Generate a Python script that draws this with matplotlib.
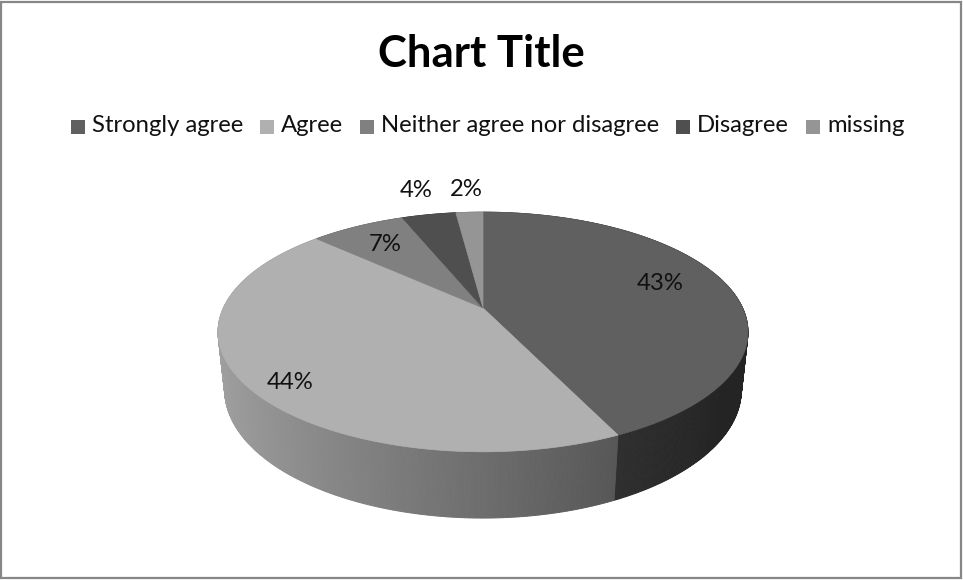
import numpy as np
import matplotlib
matplotlib.use("Agg")
import matplotlib.pyplot as plt
from matplotlib.patches import Polygon, Rectangle
from matplotlib.collections import PolyCollection
from matplotlib.colors import to_rgb

# ---- data ----
categories = ["Strongly agree", "Agree", "Neither agree nor disagree", "Disagree", "missing"]
shares = [43, 44, 7, 4, 2]
chart_title = "Chart Title"

# ---- styling ----
face_colors = ["#606060", "#b0b0b0", "#808080", "#4f4f4f", "#959595"]
label_radius = [0.70, 0.86, 0.75, 1.30, 1.30]
label_shift = [(5, -7), (8, 10), (0, 0), (0, -2), (0, 0)]   # pixel nudges
FONT = "Lato"
TEXT_FS = 17.2

W, H = 963, 580
fig = plt.figure(figsize=(W / 100, H / 100), dpi=100)
ax = fig.add_axes([0, 0, 1, 1])
ax.set_xlim(0, W)
ax.set_ylim(H, 0)
ax.axis("off")

# ---- perspective camera for the 3-D pie ----
CX, CY = 483, 308
TILT = np.radians(26.3)
CAM = 4.48
FOCAL = 1163
THICK = 0.25
S_T, C_T = np.sin(TILT), np.cos(TILT)


def project(X, Y, Z):
    up = Y * S_T + Z * C_T
    depth = CAM + Y * C_T - Z * S_T
    return CX + FOCAL * X / depth, CY - FOCAL * up / depth


fracs = np.asarray(shares, float) / np.sum(shares)
edges = np.concatenate([[0.0], np.cumsum(fracs)]) * 2 * np.pi

# side wall, drawn as thin shaded strips from back to front
strips, strip_cols, strip_depth = [], [], []
for i, col in enumerate(face_colors):
    base = np.array(to_rgb(col))
    n = max(4, int(np.degrees(edges[i + 1] - edges[i]) * 2))
    th = np.linspace(edges[i], edges[i + 1], n + 1)
    for a0, a1 in zip(th[:-1], th[1:]):
        p = [project(np.sin(a0), np.cos(a0), 0), project(np.sin(a1), np.cos(a1), 0),
             project(np.sin(a1), np.cos(a1), -THICK), project(np.sin(a0), np.cos(a0), -THICK)]
        am = 0.5 * (a0 + a1)
        light = np.clip(0.62 - 0.30 * np.sin(am), 0.37, 1.0)
        strips.append(p)
        strip_cols.append(np.clip(base * light, 0, 1))
        strip_depth.append(np.cos(am))
order = np.argsort(strip_depth)[::-1]
side = PolyCollection([strips[k] for k in order],
                      facecolors=[strip_cols[k] for k in order],
                      edgecolors=[strip_cols[k] for k in order],
                      linewidths=0.7, zorder=2)
ax.add_collection(side)

# top faces
for i, col in enumerate(face_colors):
    th = np.linspace(edges[i], edges[i + 1], 200)
    pts = [project(0, 0, 0)] + [project(np.sin(a), np.cos(a), 0) for a in th]
    ax.add_patch(Polygon(pts, closed=True, facecolor=col, edgecolor=col,
                         linewidth=0.5, zorder=3))

# percentage labels
for i, v in enumerate(shares):
    am = 0.5 * (edges[i] + edges[i + 1])
    r = label_radius[i]
    x, y = project(r * np.sin(am), r * np.cos(am), 0)
    dx, dy = label_shift[i]
    ax.text(x + dx, y + dy, f"{v}%", ha="center", va="center", fontsize=TEXT_FS,
            family=FONT, color="#111111", zorder=5)

# title
ax.text(481, 54, chart_title, ha="center", va="center", fontsize=31.5,
        family=FONT, weight="bold", color="black", zorder=5)

# legend laid out in one centred row
fig.canvas.draw()
renderer = fig.canvas.get_renderer()
sq, gap_txt, gap_item = 14, 21, 17
texts = []
widths = []
for name in categories:
    t = ax.text(0, 126, name, ha="left", va="center", fontsize=TEXT_FS,
                family=FONT, color="#111111", zorder=5)
    texts.append(t)
    widths.append(t.get_window_extent(renderer).width)
total = sum(gap_txt + w for w in widths) + gap_item * (len(widths) - 1)
x = 487.5 - total / 2
for name, col, t, w in zip(categories, face_colors, texts, widths):
    ax.add_patch(Rectangle((x, 120), sq, sq, facecolor=col, edgecolor="none", zorder=5))
    t.set_x(x + gap_txt)
    x += gap_txt + w + gap_item

# chart frame
ax.add_patch(Rectangle((1, 2), W - 3, H - 4, fill=False, edgecolor="#878787",
                       linewidth=1.6, zorder=6))

fig.savefig("out.png", dpi=100)
